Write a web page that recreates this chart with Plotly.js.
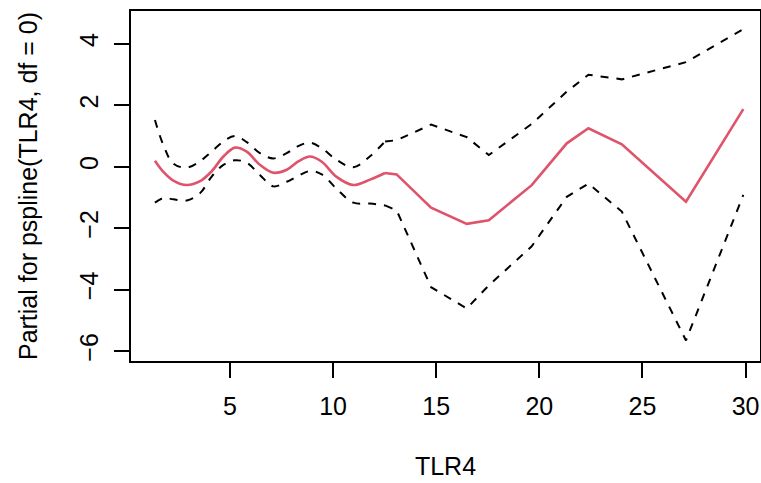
<!DOCTYPE html>
<html>
<head>
<meta charset="utf-8">
<script src="https://cdn.plot.ly/plotly-3.0.1.min.js"></script>
<style>
  html, body { margin: 0; padding: 0; background: #ffffff; }
  #plot { width: 761px; height: 483px; }
</style>
</head>
<body>
<div id="plot"></div>
<script>
// TLR4 values at which the penalised spline term was evaluated
const tlr4 = [1.36, 1.77, 2.25, 2.90, 3.55, 4.11, 4.68, 5.24, 5.81, 6.45,
              7.10, 7.75, 8.31, 8.88, 9.45, 10.17, 10.98, 11.79, 12.52, 13.08,
              14.75, 16.48, 17.55, 19.63, 21.33, 22.38, 24.00, 27.11, 29.89];

// partial effect of pspline(TLR4, df = 0)
const partialFit = [0.195, -0.17, -0.45, -0.595, -0.47, -0.15, 0.33, 0.62, 0.49, 0.06,
                    -0.195, -0.10, 0.17, 0.33, 0.16, -0.33, -0.595, -0.42, -0.205, -0.25,
                    -1.33, -1.86, -1.74, -0.60, 0.76, 1.25, 0.73, -1.14, 1.87];

// upper and lower confidence band
const upperBand = [1.52, 0.70, 0.10, -0.03, 0.18, 0.49, 0.82, 1.00, 0.80, 0.44,
                   0.27, 0.44, 0.67, 0.78, 0.60, 0.22, -0.02, 0.34, 0.82, 0.86,
                   1.37, 0.96, 0.38, 1.39, 2.44, 2.99, 2.84, 3.40, 4.47];
const lowerBand = [-1.17, -1.02, -1.06, -1.10, -0.86, -0.32, 0.06, 0.21, 0.13, -0.27,
                   -0.64, -0.49, -0.30, -0.14, -0.25, -0.72, -1.17, -1.20, -1.26, -1.42,
                   -3.92, -4.61, -3.86, -2.59, -0.98, -0.55, -1.46, -5.65, -0.92];

// the densely sampled low range is drawn smooth, the sparse upper range point to point
const smoothEnd = 18;

const xTicks = [5, 10, 15, 20, 25, 30];
const yTicks = [-6, -4, -2, 0, 2, 4];

const FONT = 'Liberation Sans, Arial, Helvetica, sans-serif';

function curve(ys, line) {
  return [
    { x: tlr4.slice(0, smoothEnd + 1), y: ys.slice(0, smoothEnd + 1),
      type: 'scatter', mode: 'lines',
      line: Object.assign({}, line, { shape: 'spline', smoothing: 1 }), hoverinfo: 'skip' },
    { x: tlr4.slice(smoothEnd), y: ys.slice(smoothEnd),
      type: 'scatter', mode: 'lines',
      line: Object.assign({}, line, { shape: 'linear' }), hoverinfo: 'skip' }
  ];
}

const bandLine = { color: '#000000', width: 2, dash: '8px,8px' };
const fitLine = { color: '#DF536B', width: 2.6 };

const traces = [].concat(
  curve(upperBand, bandLine),
  curve(lowerBand, bandLine),
  curve(partialFit, fitLine)
);

const axisCommon = {
  showgrid: false,
  zeroline: false,
  showline: true,
  mirror: true,
  linecolor: '#000000',
  linewidth: 2,
  ticks: 'outside',
  ticklen: 15,
  tickwidth: 2,
  tickcolor: '#000000',
  tickfont: { family: FONT, size: 25, color: '#000000' }
};

const layout = {
  width: 761,
  height: 483,
  margin: { l: 131, r: 1, t: 11, b: 122, pad: 0 },
  paper_bgcolor: '#ffffff',
  plot_bgcolor: '#ffffff',
  showlegend: false,
  font: { family: FONT, size: 25, color: '#000000' },
  xaxis: Object.assign({}, axisCommon, {
    range: [0.199, 30.70],
    tickmode: 'array',
    tickvals: xTicks,
    ticktext: xTicks.map(String),
    ticklabelstandoff: 7,
    title: { text: 'TLR4', font: { family: FONT, size: 25 }, standoff: 38 }
  }),
  yaxis: Object.assign({}, axisCommon, {
    range: [-6.319, 5.063],
    tickmode: 'array',
    tickvals: yTicks,
    ticktext: yTicks.map(v => v < 0 ? '\u2212' + Math.abs(v) : String(v)),
    tickangle: -90,
    ticklabelstandoff: 6,
    title: { text: 'Partial for pspline(TLR4, df = 0)', font: { family: FONT, size: 25 }, standoff: 30 }
  })
};

Plotly.newPlot('plot', traces, layout, { staticPlot: true, displayModeBar: false });
</script>
</body>
</html>
